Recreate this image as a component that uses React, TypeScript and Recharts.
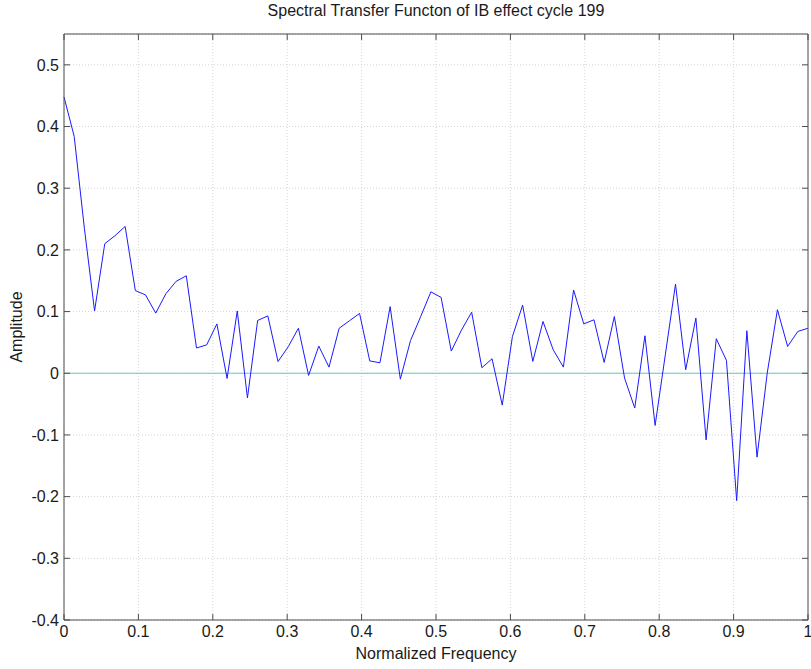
import {
  LineChart,
  Line,
  XAxis,
  YAxis,
  CartesianGrid,
  ReferenceLine,
  Label,
} from 'recharts'

// amplitude of the transfer function, evenly spaced over normalized frequency 0..1
const AMPLITUDE = [
  0.448, 0.384, 0.235, 0.101, 0.21, 0.223, 0.238, 0.134, 0.127, 0.0975,
  0.129, 0.149, 0.158, 0.041, 0.046, 0.08, -0.0084, 0.101, -0.04, 0.0856,
  0.093, 0.019, 0.043, 0.073, -0.0035, 0.044, 0.01, 0.073, 0.085, 0.097,
  0.02, 0.017, 0.108, -0.0095, 0.053, 0.092, 0.132, 0.123, 0.036, 0.07,
  0.099, 0.009, 0.0235, -0.0516, 0.0597, 0.1105, 0.0192, 0.084, 0.038, 0.01,
  0.135, 0.08, 0.0867, 0.0176, 0.092, -0.0078, -0.0564, 0.0608, -0.0846, 0.03,
  0.1445, 0.0057, 0.0894, -0.108, 0.056, 0.0208, -0.2066, 0.0689, -0.136, 0.0003,
  0.103, 0.0435, 0.0678, 0.073,
]

const X_TICKS = [0, 0.1, 0.2, 0.3, 0.4, 0.5, 0.6, 0.7, 0.8, 0.9, 1]
const Y_TICKS = [-0.4, -0.3, -0.2, -0.1, 0, 0.1, 0.2, 0.3, 0.4, 0.5]

const TITLE = 'Spectral Transfer Functon of IB effect cycle 199'
const X_LABEL = 'Normalized Frequency'
const Y_LABEL = 'Amplitude'

const FONT = '"Liberation Sans", Arial, sans-serif'
const AXIS_COLOR = '#4d4d4d'
const TEXT_COLOR = '#1a1a1a'

const data = AMPLITUDE.map((amp, i) => ({
  freq: i / (AMPLITUDE.length - 1),
  amp,
}))

const tickStyle = { fontSize: 16, fill: TEXT_COLOR, fontFamily: FONT }
const blank = () => ''

export default function App() {
  return (
    <div style={{ position: 'absolute', left: 0, top: 0, background: '#fff' }}>
      <LineChart
        width={811}
        height={669}
        data={data}
        margin={{ top: 4, right: 0, bottom: 0, left: 0 }}
        style={{ fontFamily: FONT }}
      >
        <CartesianGrid
          stroke="#d4d4d4"
          strokeDasharray="1 2"
          xAxisId="bottom"
          yAxisId="left"
        />
        <XAxis
          xAxisId="bottom"
          dataKey="freq"
          type="number"
          domain={[0, 1]}
          ticks={X_TICKS}
          height={49}
          tickSize={-6}
          tickMargin={12}
          tick={tickStyle}
          stroke={AXIS_COLOR}
          interval={0}
        >
          <Label
            value={X_LABEL}
            position="insideBottom"
            offset={10}
            style={{ fontSize: 16, fill: TEXT_COLOR, fontFamily: FONT }}
          />
        </XAxis>
        <XAxis
          xAxisId="top"
          orientation="top"
          dataKey="freq"
          type="number"
          domain={[0, 1]}
          ticks={X_TICKS}
          height={30}
          tickSize={-6}
          tickFormatter={blank}
          stroke={AXIS_COLOR}
          interval={0}
        >
          <Label
            value={TITLE}
            position="insideTop"
            offset={1}
            style={{ fontSize: 16, fill: TEXT_COLOR, fontFamily: FONT }}
          />
        </XAxis>
        <YAxis
          yAxisId="left"
          type="number"
          domain={[-0.4, 0.55]}
          ticks={Y_TICKS}
          width={64}
          tickSize={-6}
          tickMargin={11}
          tick={tickStyle}
          stroke={AXIS_COLOR}
          interval={0}
          allowDataOverflow
        >
          <Label
            value={Y_LABEL}
            angle={-90}
            position="insideLeft"
            offset={16}
            style={{ fontSize: 16, fill: TEXT_COLOR, fontFamily: FONT, textAnchor: 'middle' }}
          />
        </YAxis>
        <YAxis
          yAxisId="right"
          orientation="right"
          type="number"
          domain={[-0.4, 0.55]}
          ticks={Y_TICKS}
          width={3}
          tickSize={-6}
          tickFormatter={blank}
          stroke={AXIS_COLOR}
          interval={0}
          allowDataOverflow
        />
        <ReferenceLine
          y={0}
          xAxisId="bottom"
          yAxisId="left"
          stroke="#5fcdc8"
          strokeWidth={1.2}
        />
        <Line
          xAxisId="bottom"
          yAxisId="left"
          type="linear"
          dataKey="amp"
          stroke="#1a1aff"
          strokeWidth={1}
          dot={false}
          isAnimationActive={false}
        />
      </LineChart>
    </div>
  )
}
